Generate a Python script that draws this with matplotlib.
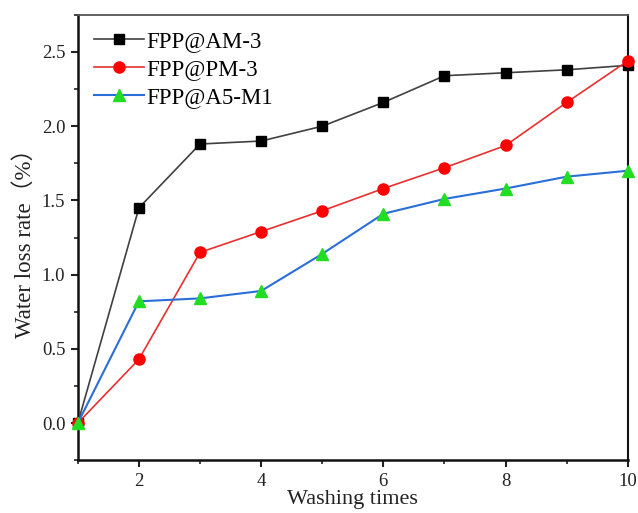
import matplotlib.pyplot as plt
from matplotlib.ticker import MultipleLocator

plt.rcParams['font.family'] = ['Liberation Serif', 'Noto Sans CJK SC']

# Data
washes = [1, 2, 3, 4, 5, 6, 7, 8, 9, 10]
am3 = [0.0, 1.45, 1.88, 1.90, 2.00, 2.16, 2.34, 2.36, 2.38, 2.41]
pm3 = [0.0, 0.43, 1.15, 1.29, 1.43, 1.58, 1.72, 1.87, 2.16, 2.44]
a5m1 = [0.0, 0.82, 0.84, 0.89, 1.14, 1.41, 1.51, 1.58, 1.66, 1.70]

fig = plt.figure(figsize=(6.38, 5.13), dpi=100)
ax = fig.add_axes([0.122, 0.103, 0.862, 0.868])

ax.plot(washes, am3, color="#404040", lw=1.2, marker="s", ms=7.5,
        mfc="black", mec="black", label="FPP@AM-3", clip_on=False, zorder=3)
ax.plot(washes, pm3, color="#e83030", lw=1.2, marker="o", ms=8,
        mfc="red", mec="red", label="FPP@PM-3", clip_on=False, zorder=3)
ax.plot(washes, a5m1, color="#2a6fd8", lw=1.5, marker="^", ms=8.5,
        mfc="#22dd22", mec="#22dd22", label="FPP@A5-M1", clip_on=False, zorder=3)

ax.set_xlim(1, 10)
ax.set_ylim(-0.25, 2.75)
ax.xaxis.set_major_locator(MultipleLocator(2))
ax.xaxis.set_minor_locator(MultipleLocator(1))
ax.yaxis.set_major_locator(MultipleLocator(0.5))
ax.yaxis.set_minor_locator(MultipleLocator(0.25))
ax.set_xticks([2, 4, 6, 8, 10])
ax.tick_params(which="major", direction="out", length=5, width=1.5, labelsize=13.5,
               colors="#222222", pad=4)
ax.tick_params(which="minor", direction="out", length=3, width=1.2, colors="#222222")

for s in ["left", "bottom"]:
    ax.spines[s].set_linewidth(1.8)
    ax.spines[s].set_color("#111111")
ax.spines["right"].set_linewidth(1.5)
ax.spines["right"].set_color("#111111")
ax.spines["top"].set_linewidth(1.3)
ax.spines["top"].set_color("#555555")

ax.set_xlabel("Washing times", fontsize=16, labelpad=0, color="#222222")
ax.set_ylabel("Water loss rate（%）", fontsize=16.5, labelpad=4, color="#222222")

ax.legend(loc="upper left", frameon=False, fontsize=16.5, handlelength=2.2,
          handletextpad=0.1, labelspacing=0.3, borderaxespad=0.3,
          bbox_to_anchor=(0.0, 1.0))

fig.savefig("out.png", dpi=100)
